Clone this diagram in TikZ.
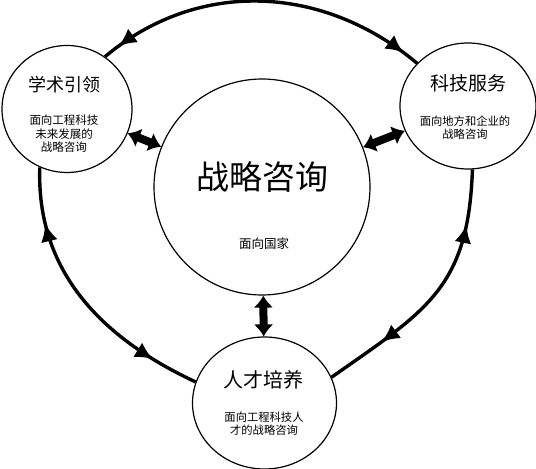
\documentclass[tikz,border=0pt]{standalone}
\usepackage{fontspec}
\setmainfont{Noto Sans CJK SC}
\usetikzlibrary{positioning,arrows.meta,shapes.geometric,decorations.markings}

\begin{document}
\begin{tikzpicture}[
  x=1pt, y=1pt,
  every node/.style={font=\small},
  hub/.style={draw=black, circle, line width=1.2pt, minimum size=216pt, inner sep=0pt},
  spoke/.style={draw=black, ellipse, line width=1.2pt, inner sep=0pt},
  ttl/.style={font=\fontsize{19}{21}\selectfont},
  sub/.style={font=\fontsize{11.3}{13}\selectfont, align=center},
  dbl/.style={{Latex[length=12pt,width=20pt]}-{Latex[length=12pt,width=20pt]}, line width=8pt},
  ring/.style 2 args={line width=3.4pt, postaction={decorate},
    decoration={markings,
      mark=at position #1 with {\arrowreversed{Latex[length=18pt,width=17pt]}},
      mark=at position #2 with {\arrow{Latex[length=18pt,width=17pt]}}}}
]
  \useasboundingbox (0,0) rectangle (536,469);

  % Circles
  \node[hub] (cen) at (262,282) {};
  \node[spoke, minimum width=130pt, minimum height=127pt] (tl) at (67,360) {};
  \node[spoke, minimum width=136pt, minimum height=126pt] (tr) at (468,363) {};
  \node[spoke, minimum width=144pt, minimum height=132pt] (bot) at (264.5,66) {};

  % Texts
  \node[font=\fontsize{33}{36}\selectfont] (cen-t) at (262,292) {战略咨询};
  \node[sub, font=\fontsize{12.5}{14}\selectfont] (cen-s) at (264,225) {面向国家};
  \node[ttl, font=\fontsize{18}{20}\selectfont] (tl-t) at (64,384) {学术引领};
  \node[sub, font=\fontsize{11.5}{13.5}\selectfont] (tl-s) at (64,335) {面向工程科技\\未来发展的\\战略咨询};
  \node[ttl] (tr-t) at (468,386) {科技服务};
  \node[sub] (tr-s) at (465,341) {面向地方和企业的\\战略咨询};
  \node[ttl, font=\fontsize{20}{22}\selectfont] (bot-t) at (263,89) {人才培养};
  \node[sub] (bot-s) at (264,45) {面向工程科技人\\才的战略咨询};

  % Outer ring
  \draw[ring={0.05}{0.95}] (tl.54) to[out=40,in=140] (tr.140);
  \draw[ring={0.2}{0.83}] (tl.245) to[out=268,in=155] (bot.163);
  \draw[ring={0.21}{0.77}] (tr.274) to[out=268,in=35,looseness=1.2] (bot.21);

  % Inner arrows
  \draw[dbl] (cen) -- (tl);
  \draw[dbl] (cen) -- (tr);
  \draw[dbl] (cen) -- (bot);
\end{tikzpicture}
\end{document}
